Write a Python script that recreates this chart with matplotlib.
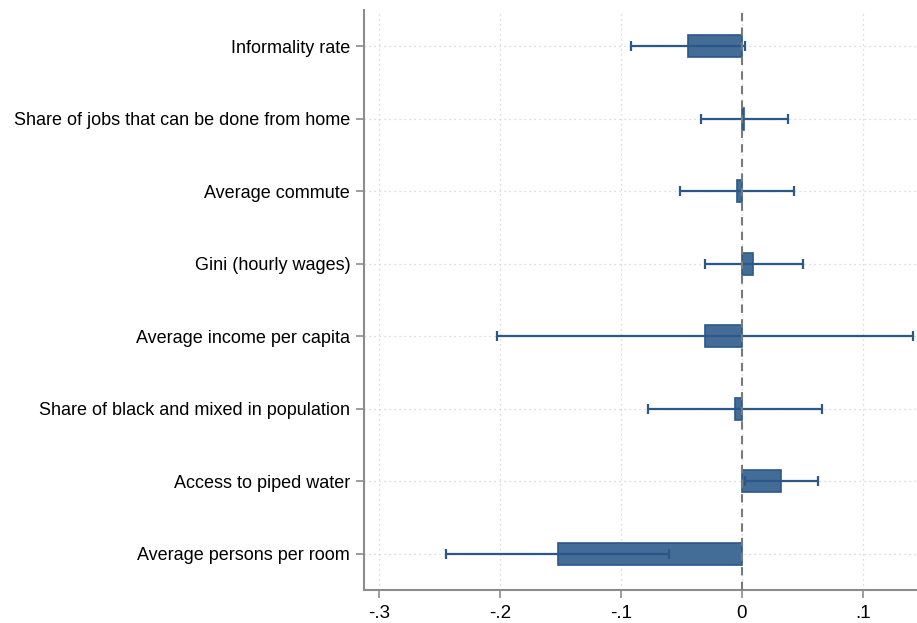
import matplotlib
matplotlib.use("Agg")
import matplotlib.pyplot as plt
import numpy as np

categories = [
    "Informality rate",
    "Share of jobs that can be done from home",
    "Average commute",
    "Gini (hourly wages)",
    "Average income per capita",
    "Share of black and mixed in population",
    "Access to piped water",
    "Average persons per room",
]
coef = [-0.0443, 0.0015, -0.0038, 0.0097, -0.0302, -0.0056, 0.0326, -0.1524]
ci_low = [-0.0916, -0.0335, -0.0508, -0.0305, -0.2029, -0.0775, 0.0023, -0.2443]
ci_high = [0.0029, 0.0379, 0.0429, 0.0508, 0.1418, 0.0661, 0.0628, -0.0602]
xticks = [-0.3, -0.2, -0.1, 0.0, 0.1]
xticklabels = ["-.3", "-.2", "-.1", "0", ".1"]

plt.rcParams['font.family'] = ['Liberation Sans', 'DejaVu Sans']

fig = plt.figure(figsize=(9.17, 6.23), dpi=100)
ax = fig.add_axes([0.397, 0.053, 0.603, 0.931])

y = np.arange(len(categories))
fill = "#436D97"
edge = "#2B5889"
ax.barh(y, coef, height=0.3, color=fill, edgecolor=edge, linewidth=1.2, zorder=3)
coef_a = np.array(coef)
xerr = [coef_a - np.array(ci_low), np.array(ci_high) - coef_a]
ax.errorbar(coef, y, xerr=xerr, fmt='none', ecolor=edge, elinewidth=1.6,
            capsize=3.5, capthick=1.6, zorder=4)

ax.axvline(0, color="#7a7a7a", linestyle=(0, (4, 3)), linewidth=1.5, zorder=5)

ax.set_ylim(len(categories) - 0.5, -0.5)
ax.set_xlim(-0.3125, 0.145)
ax.set_yticks(y)
ax.set_yticklabels(categories, fontsize=13)
ax.set_xticks(xticks)
ax.set_xticklabels(xticklabels, fontsize=13.5)

ax.grid(True, color="#cfcfcf", linestyle=(0, (1, 3)), linewidth=0.9, zorder=0)
for s in ["top", "right"]:
    ax.spines[s].set_visible(False)
for s in ["left", "bottom"]:
    ax.spines[s].set_color("#8c8c8c")
    ax.spines[s].set_linewidth(1.5)
ax.tick_params(axis='both', colors="#8c8c8c", labelcolor="black", length=6, width=1.2)
ax.tick_params(axis='y', pad=4)
ax.tick_params(axis='x', pad=5)

fig.savefig("out.png", dpi=100)
